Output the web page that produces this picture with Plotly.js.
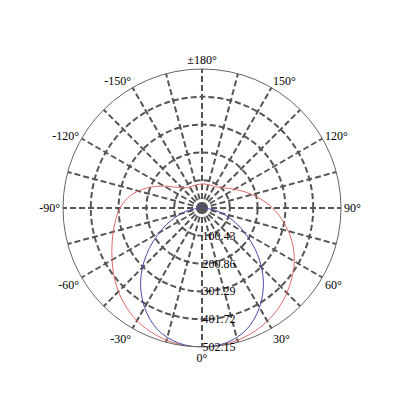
<!DOCTYPE html>
<html>
<head>
<meta charset="utf-8">
<script src="https://cdn.plot.ly/plotly-3.0.1.min.js"></script>
<style>
  html, body { margin: 0; padding: 0; background: #fff; }
  #chart { width: 400px; height: 400px; }
</style>
</head>
<body>
<div id="chart"></div>
<script>
// Angles in degrees, 0° points down
const angulos = [-180, -170, -160, -150, -140, -130, -120, -110, -100, -90,
  -80, -70, -60, -50, -40, -30, -20, -10, 0, 10, 20, 30, 40, 50, 60, 70, 80,
  90, 100, 110, 120, 130, 140, 150, 160, 170, 180];

// Red curve (wide plane)
const curvaVermelha = [87, 86, 86, 88, 95, 116, 158, 212, 262, 296,
  320, 345, 375, 410, 443, 470, 488, 499, 502, 499, 489, 472, 448, 418, 385, 345, 300,
  255, 208, 168, 135, 112, 97, 90, 88, 87, 87];

// Blue curve (narrow plane)
const curvaAzul = [10, 10, 10, 10, 10, 10, 10, 10, 10, 12,
  50, 108, 178, 262, 345, 415, 468, 495, 502, 495, 468, 415, 345, 262, 178, 108, 50,
  12, 10, 10, 10, 10, 10, 10, 10, 10, 10];

// Radial ticks
const raioTicks = [100.43, 200.86, 301.29, 401.72, 502.15];
const raioTexto = ['100.43', '200.86', '301.29', '401.72', '502.15'];

// Angular ticks (grid every 15°, labels every 30°)
const anguloTicks = [0, 15, 30, 45, 60, 75, 90, 105, 120, 135, 150, 165, 180,
  195, 210, 225, 240, 255, 270, 285, 300, 315, 330, 345];
const anguloTexto = ['0°', '', '30°', '', '60°', '', '90°', '', '120°', '', '150°', '',
  '±180°', '', '-150°', '', '-120°', '', '-90°', '', '-60°', '', '-30°', ''];

const fonte = { family: 'Liberation Serif, Times New Roman, serif', size: 12, color: '#000' };

const data = [
  {
    type: 'scatterpolar',
    mode: 'lines',
    theta: angulos,
    r: curvaVermelha,
    line: { color: '#dd6b6b', width: 1, shape: 'spline', smoothing: 1 },
    hoverinfo: 'skip'
  },
  {
    type: 'scatterpolar',
    mode: 'lines',
    theta: angulos,
    r: curvaAzul,
    line: { color: '#4a4aa8', width: 1, shape: 'spline', smoothing: 1 },
    hoverinfo: 'skip'
  }
];

const layout = {
  width: 400,
  height: 400,
  margin: { l: 0, r: 0, t: 0, b: 0 },
  paper_bgcolor: '#fff',
  showlegend: false,
  font: fonte,
  polar: {
    domain: { x: [0.1575, 0.8525], y: [0.1325, 0.8275] },
    bgcolor: '#fff',
    angularaxis: {
      rotation: 270,
      direction: 'counterclockwise',
      tickmode: 'array',
      tickvals: anguloTicks,
      ticktext: anguloTexto,
      ticks: '',
      tickfont: fonte,
      showline: true,
      linecolor: '#666',
      linewidth: 1,
      gridcolor: '#555',
      gridwidth: 2,
      griddash: '6px,3px'
    },
    radialaxis: {
      range: [0, 502.15],
      angle: 270,
      tickangle: -90,
      side: 'counterclockwise',
      tickmode: 'array',
      tickvals: raioTicks,
      ticktext: raioTexto,
      ticks: '',
      tickfont: fonte,
      showline: false,
      gridcolor: '#555',
      gridwidth: 2,
      griddash: '6px,3px'
    }
  }
};

Plotly.newPlot('chart', data, layout, { staticPlot: true });
</script>
</body>
</html>
